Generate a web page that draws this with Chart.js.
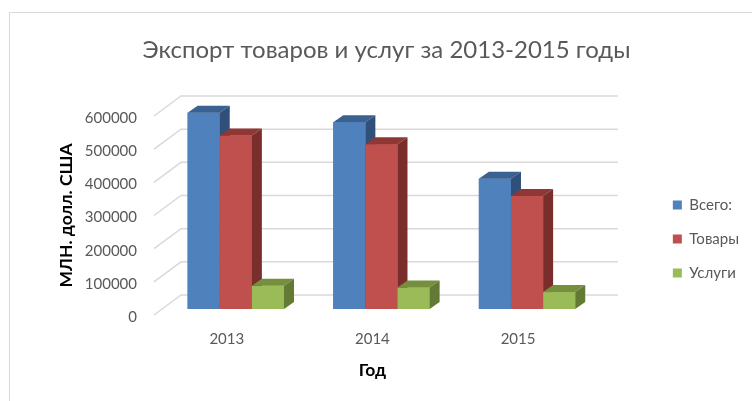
<!DOCTYPE html>
<html>
<head>
<meta charset="utf-8">
<script src="https://cdn.jsdelivr.net/npm/chart.js@4.4.1/dist/chart.umd.min.js"></script>
<style>
	body { margin: 0; background: #fff; }
	#frame {
		position: absolute;
		left: 9px;
		top: 12px;
		width: 800px;
		height: 500px;
		border-left: 1.5px solid #d9d9d9;
		border-top: 1.5px solid #d9d9d9;
	}
	#export-chart { position: absolute; left: 0; top: 0; }
</style>
</head>
<body>
<div id="frame"></div>
<canvas id="export-chart" width="752" height="401"></canvas>
<script>
// Data (values in mln USD)
const years = ["2013", "2014", "2015"];
const total = [592000, 563000, 393000];
const goods = [523000, 497000, 341000];
const services = [70000, 65000, 51000];
const yTickValues = [0, 100000, 200000, 300000, 400000, 500000, 600000];

const seriesNames = ["Всего:", "Товары", "Услуги"];
const frontColors = ["#4f81bd", "#c0504d", "#9bbb59"];
const topColors = ["#3b6191", "#8f3735", "#758f3f"];
const sideColors = ["#30507a", "#7a2e2c", "#637a34"];

// 3d offsets: whole floor depth and bar depth
const FLOOR_DX = 27, FLOOR_DY = -20;
const BAR_SHIFT_X = 9, BAR_SHIFT_Y = -6;
const BAR_DX = 10, BAR_DY = -7;

const pseudo3d = {
	id: "pseudo3d",
	beforeDatasetsDraw(chart) {
		const ctx = chart.ctx;
		const { left, right } = chart.chartArea;
		const yScale = chart.scales.y;

		// back wall gridlines + floor diagonals
		ctx.save();
		ctx.strokeStyle = "#d9d9d9";
		ctx.lineWidth = 1.5;
		yScale.ticks.forEach((t) => {
			let y = yScale.getPixelForValue(t.value);
			ctx.beginPath();
			ctx.moveTo(left, y);
			ctx.lineTo(left + FLOOR_DX, y + FLOOR_DY);
			ctx.lineTo(right + FLOOR_DX, y + FLOOR_DY);
			ctx.stroke();
		});
		ctx.restore();

		ctx.save();
		ctx.translate(BAR_SHIFT_X, BAR_SHIFT_Y);
	},
	afterDatasetsDraw(chart) {
		const ctx = chart.ctx;
		let metas = chart.data.datasets.map((ds, i) => chart.getDatasetMeta(i));

		for (let idx = 0; idx < years.length; idx++) {
			metas.forEach((meta, d) => {
				let bar = meta.data[idx];
				if (!bar) return;
				let { x, y, base, width } = bar.getProps(["x", "y", "base", "width"], true);
				let l = x - width / 2, r = x + width / 2;

				ctx.fillStyle = frontColors[d];
				ctx.fillRect(l, y, width, base - y);

				ctx.fillStyle = topColors[d];
				ctx.beginPath();
				ctx.moveTo(l, y);
				ctx.lineTo(r, y);
				ctx.lineTo(r + BAR_DX, y + BAR_DY);
				ctx.lineTo(l + BAR_DX, y + BAR_DY);
				ctx.closePath();
				ctx.fill();

				ctx.fillStyle = sideColors[d];
				ctx.beginPath();
				ctx.moveTo(r, y);
				ctx.lineTo(r + BAR_DX, y + BAR_DY);
				ctx.lineTo(r + BAR_DX, base + BAR_DY);
				ctx.lineTo(r, base);
				ctx.closePath();
				ctx.fill();
			});
		}
		ctx.restore();
	},
};

const data = {
	labels: years,
	datasets: [total, goods, services].map((values, i) => ({
		label: seriesNames[i],
		data: values,
		backgroundColor: frontColors[i],
		borderWidth: 0,
		yAxisID: "y",
		clip: false,
	})),
};

const FONT = "Lato, 'Open Sans', sans-serif";

new Chart(document.getElementById("export-chart"), {
	type: "bar",
	data: data,
	plugins: [pseudo3d],
	options: {
		responsive: false,
		animation: false,
		layout: { padding: { left: 24, right: 3, top: 0, bottom: 0 } },
		datasets: {
			bar: { categoryPercentage: 0.662, barPercentage: 1 },
		},
		scales: {
			x: {
				grid: { display: false, drawTicks: false },
				border: { display: false },
				ticks: {
					padding: 15,
					color: "#595959",
					font: { family: FONT, size: 15 },
				},
				title: {
					display: true,
					text: "Год",
					color: "#000",
					font: { family: FONT, size: 17.5, weight: "bold" },
					padding: { top: 0, bottom: 20.5 },
				},
				afterFit: (s) => { s.height = 86; },
			},
			y: {
				min: 0,
				max: 600000,
				grid: { display: false, drawTicks: false },
				border: { display: false },
				afterBuildTicks: (s) => { s.ticks = yTickValues.map((v) => ({ value: v })); },
				ticks: {
					padding: 17,
					labelOffset: 2,
					color: "#595959",
					font: { family: FONT, size: 15 },
					callback: (v) => String(v),
				},
				title: {
					display: true,
					text: "МЛН. долл. США",
					color: "#000",
					font: { family: FONT, size: 17.5, weight: "bold" },
					padding: { top: 31.5, bottom: 0 },
				},
				afterFit: (s) => { s.width = 130; },
			},
			// empty axis, only keeps a gap between the plot and the legend
			yGap: {
				position: "right",
				grid: { display: false, drawTicks: false },
				border: { display: false },
				ticks: { display: false },
				afterFit: (s) => { s.width = 63; },
			},
		},
		plugins: {
			title: {
				display: true,
				text: "Экспорт товаров и услуг за 2013-2015 годы",
				color: "#595959",
				font: { family: FONT, size: 24, weight: "normal" },
				padding: { top: 36, bottom: 51.2 },
			},
			legend: {
				position: "right",
				fullSize: false,
				title: { display: true, text: "", font: { size: 10 }, padding: { top: 35, bottom: 0 } },
				labels: {
					boxWidth: 9,
					boxHeight: 9,
					padding: 19,
					color: "#595959",
					font: { family: FONT, size: 15 },
				},
			},
			tooltip: { enabled: false },
		},
	},
});
</script>
</body>
</html>
